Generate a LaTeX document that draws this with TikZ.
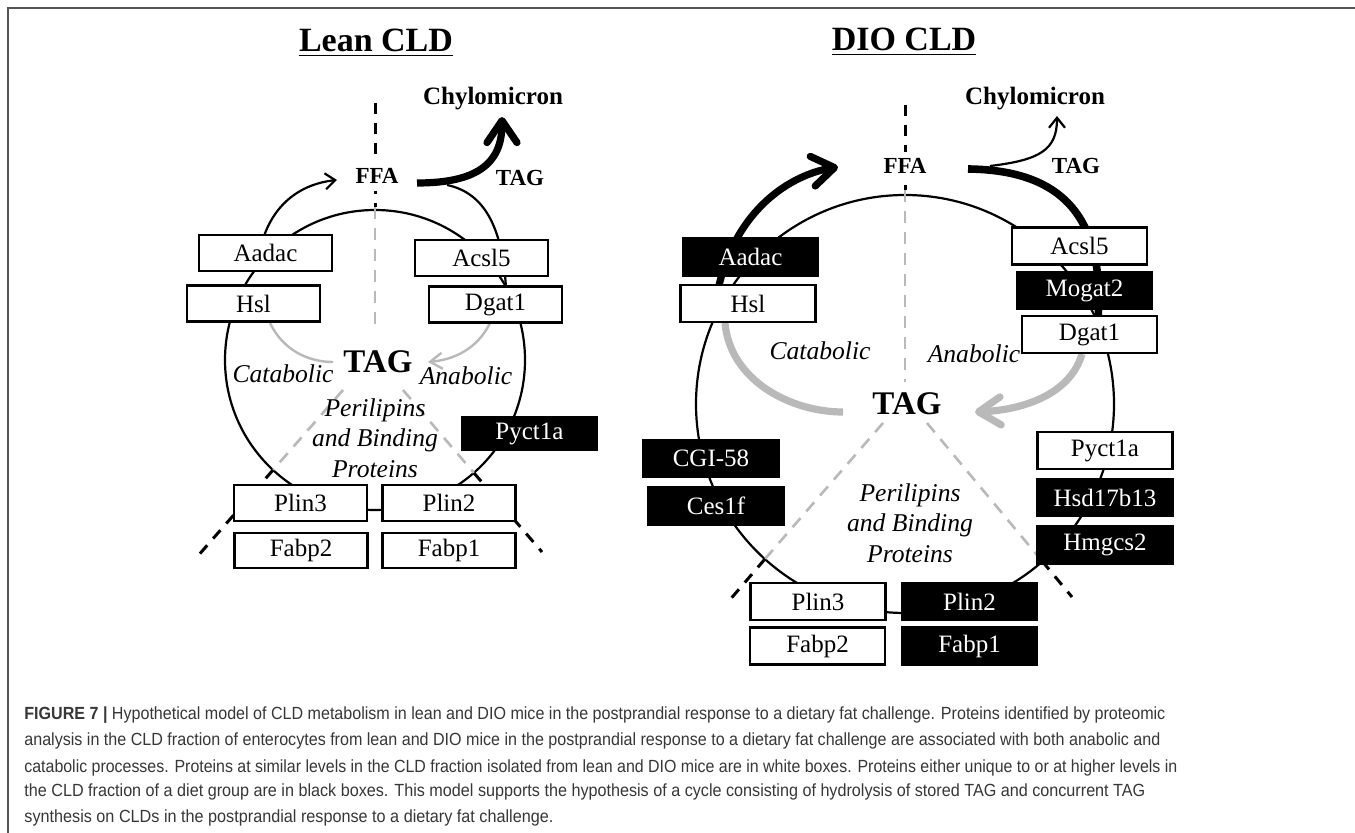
\documentclass[tikz,border=0pt]{standalone}
\usepackage{fontspec}
\setmainfont{Liberation Serif}
\newfontfamily\capfont{Liberation Sans}
\usetikzlibrary{arrows.meta}
\definecolor{lgray}{RGB}{185,185,185}
\definecolor{capgray}{RGB}{55,55,55}
\definecolor{framegray}{RGB}{85,85,85}
\newcommand{\capline}[2]{\resizebox{#1}{\height}{\capfont\fontsize{8.8}{10}\selectfont #2}}
\begin{document}
\begin{tikzpicture}[x=0.5pt,y=-0.5pt,
 every node/.style={inner sep=0pt},
 wbox/.style={draw=black, fill=white, line width=1.2pt, minimum width=66.5pt, minimum height=18pt, font=\fontsize{12.5}{14}\selectfont},
 bbox/.style={wbox, fill=black, text=white},
 dwbox/.style={wbox, minimum width=67.5pt, minimum height=18.5pt},
 dbbox/.style={dwbox, fill=black, text=white},
 ttl/.style={font=\fontsize{17}{20}\selectfont\bfseries, anchor=base},
 blbl/.style={font=\fontsize{12.5}{14}\selectfont\bfseries, anchor=base},
 slbl/.style={font=\fontsize{11.5}{14}\selectfont\bfseries, anchor=base},
 ffa/.style={slbl, fill=white, inner sep=3.5pt},
 biglbl/.style={font=\fontsize{16.5}{20}\selectfont\bfseries, anchor=base},
 ilbl/.style={font=\fontsize{12.8}{15}\selectfont\itshape, anchor=base},
 circ/.style={line width=1.1pt},
 thinarr/.style={line width=1.1pt, -{Straight Barb[length=5pt,width=8pt]}},
 thickarr/.style={line width=3.6pt, -{Straight Barb[length=11pt,width=15pt,round]}},
 bdash/.style={black, line width=1.5pt, dash pattern=on 5.5pt off 4.5pt},
 gdash/.style={lgray, line width=1.3pt, dash pattern=on 6pt off 4.5pt},
 garr/.style={lgray, line width=1.2pt},
 gthick/.style={lgray, line width=3.6pt},
 capnode/.style={anchor=base west, text=capgray}
]
\useasboundingbox (0,0) rectangle (1355,833);
\fill[white] (0,0) rectangle (1355,833);
\draw[framegray, line width=1pt] (8,833) -- (8,8) -- (1355,8);

% ================= LEAN CLD =================
\node[ttl] (leantitle) at (376,52) {\underline{Lean CLD}};
\draw[circ] (375,360) circle[radius=150];

\coordinate (lA0) at (260,250);
\coordinate (lA1) at (337,180);
\draw[thinarr] (lA0) .. controls (270,205) and (300,184) .. (lA1);
\coordinate (lB0) at (447,185);
\coordinate (lB1) at (506,288);
\draw[line width=1.1pt] (lB0) .. controls (480,192) and (502,220) .. (lB1);
\coordinate (lC0) at (417,183);
\coordinate (lC1) at (502,117);
\draw[thickarr] (lC0) .. controls (475,183) and (502,165) .. (lC1);

\coordinate (lG0) at (270,323);
\coordinate (lG1) at (333,362);
\draw[garr] (lG0) .. controls (283,350) and (308,362) .. (lG1);
\coordinate (lG2) at (490,323);
\coordinate (lG3) at (428,362);
\draw[garr, -{Straight Barb[length=6pt,width=8pt]}] (lG2) .. controls (477,350) and (452,360) .. (lG3);

% dashed separators
\coordinate (lV0) at (375,103);
\coordinate (lV1) at (375,207);
\coordinate (lV2) at (375,332);
\draw[bdash] (lV0) -- (lV1);
\draw[gdash] (lV1) -- (lV2);
\coordinate (lL0) at (343,390);
\coordinate (lL1) at (273,470);
\coordinate (lL2) at (197,557);
\draw[gdash] (lL0) -- (lL1);
\draw[bdash] (lL1) -- (lL2);
\coordinate (lR0) at (403,390);
\coordinate (lR1) at (474,473);
\coordinate (lR2) at (542,552);
\draw[gdash] (lR0) -- (lR1);
\draw[bdash] (lR1) -- (lR2);

\node[ffa] (lffa) at (377,184) {FFA};
\node[blbl] (lchylo) at (493,105) {Chylomicron};
\node[slbl] (ltagout) at (520,186) {TAG};
\node[biglbl] (ltag) at (378,373) {TAG};
\node[ilbl] (lcat) at (283,383) {Catabolic};
\node[ilbl] (lana) at (466,385) {Anabolic};
\node[ilbl] (lper1) at (375,417) {Perilipins};
\node[ilbl] (lper2) at (375,447) {and Binding};
\node[ilbl] (lper3) at (375,478) {Proteins};

\node[wbox] (laadac) at (265.5,253) {Aadac};
\node[wbox] (lhsl) at (253.5,303.5) {Hsl};
\node[wbox] (lacsl) at (481.5,258) {Acsl5};
\node[wbox] (ldgat) at (495.5,304.5) {Dgat1};
\node[bbox, minimum width=67.5pt, minimum height=16.5pt] (lpyct) at (529.5,433.5) {Pyct1a};
\node[wbox] (lplin3) at (300.5,503) {Plin3};
\node[wbox] (lplin2) at (449,503) {Plin2};
\node[wbox, minimum height=17.5pt] (lfabp2) at (301,550.5) {Fabp2};
\node[wbox, minimum height=17.5pt] (lfabp1) at (449,550.5) {Fabp1};

% ================= DIO CLD =================
\node[ttl] (diotitle) at (904,51) {\underline{DIO CLD}};
\draw[circ] (905,404) circle[radius=209];

\coordinate (dA0) at (718,290);
\coordinate (dA1) at (838,167);
\draw[thickarr] (dA0) .. controls (735,210) and (790,175) .. (dA1);
\coordinate (dB0) at (968,169);
\coordinate (dB1) at (1098,318);
\draw[line width=3.8pt] (dB0) .. controls (1060,170) and (1105,215) .. (dB1);
\coordinate (dC0) at (990,166);
\coordinate (dC1) at (1057,116);
\draw[thinarr] (dC0) .. controls (1040,160) and (1057,150) .. (dC1);

\coordinate (dG0) at (725,323);
\coordinate (dG1) at (843,412);
\draw[gthick] (dG0) .. controls (730,380) and (790,412) .. (dG1);
\coordinate (dG2) at (1082,354);
\coordinate (dG3) at (975,412);
\draw[gthick, -{Straight Barb[length=11pt,width=14pt,round]}] (dG2) .. controls (1070,395) and (1022,410) .. (dG3);

\coordinate (dV0) at (905,105);
\coordinate (dV1) at (905,190);
\coordinate (dV2) at (905,382);
\draw[bdash] (dV0) -- (dV1);
\draw[gdash] (dV1) -- (dV2);
\coordinate (dL0) at (883,423);
\coordinate (dL1) at (765,559);
\coordinate (dL2) at (728,602);
\draw[gdash] (dL0) -- (dL1);
\draw[bdash] (dL1) -- (dL2);
\coordinate (dR0) at (927,423);
\coordinate (dR1) at (1042,561);
\coordinate (dR2) at (1072,597);
\draw[gdash] (dR0) -- (dR1);
\draw[bdash] (dR1) -- (dR2);

\node[ffa] (dffa) at (905,174) {FFA};
\node[blbl] (dchylo) at (1035,105) {Chylomicron};
\node[slbl] (dtagout) at (1076,174) {TAG};
\node[biglbl] (dtag) at (907,415) {TAG};
\node[ilbl] (dcat) at (820,360) {Catabolic};
\node[ilbl] (dana) at (974,363) {Anabolic};
\node[ilbl] (dper1) at (910,502) {Perilipins};
\node[ilbl] (dper2) at (910,532) {and Binding};
\node[ilbl] (dper3) at (910,563) {Proteins};

\node[dbbox] (daadac) at (750.5,257) {Aadac};
\node[dwbox] (dhsl) at (748,303.5) {Hsl};
\node[dwbox] (dacsl) at (1079.5,246) {Acsl5};
\node[dbbox] (dmogat) at (1084.5,290.5) {Mogat2};
\node[dwbox] (ddgat) at (1089.5,334.5) {Dgat1};
\node[dwbox] (dpyct) at (1105,450.5) {Pyct1a};
\node[dbbox] (dhsd) at (1105,497.5) {Hsd17b13};
\node[dbbox] (dhmg) at (1105,545) {Hmgcs2};
\node[dbbox] (dcgi) at (711,458.5) {CGI-58};
\node[dbbox] (dces) at (716,506) {Ces1f};
\node[dwbox] (dplin3) at (818,601.5) {Plin3};
\node[dbbox] (dplin2) at (969.5,601.5) {Plin2};
\node[dwbox] (dfabp2) at (817.5,646) {Fabp2};
\node[dbbox] (dfabp1) at (969.5,646) {Fabp1};

% ================= CAPTION =================
\node[capnode] (cap1) at (24,720) {\capline{570.5pt}{\textbf{FIGURE 7 |} Hypothetical model of CLD metabolism in lean and DIO mice in the postprandial response to a dietary fat challenge. Proteins identified by proteomic}};
\node[capnode] (cap2) at (24,746) {\capline{568pt}{analysis in the CLD fraction of enterocytes from lean and DIO mice in the postprandial response to a dietary fat challenge are associated with both anabolic and}};
\node[capnode] (cap3) at (24,772) {\capline{576.5pt}{catabolic processes. Proteins at similar levels in the CLD fraction isolated from lean and DIO mice are in white boxes. Proteins either unique to or at higher levels in}};
\node[capnode] (cap4) at (24,797) {\capline{560.5pt}{the CLD fraction of a diet group are in black boxes. This model supports the hypothesis of a cycle consisting of hydrolysis of stored TAG and concurrent TAG}};
\node[capnode] (cap5) at (24,822) {\capline{264.5pt}{synthesis on CLDs in the postprandial response to a dietary fat challenge.}};
\end{tikzpicture}
\end{document}
